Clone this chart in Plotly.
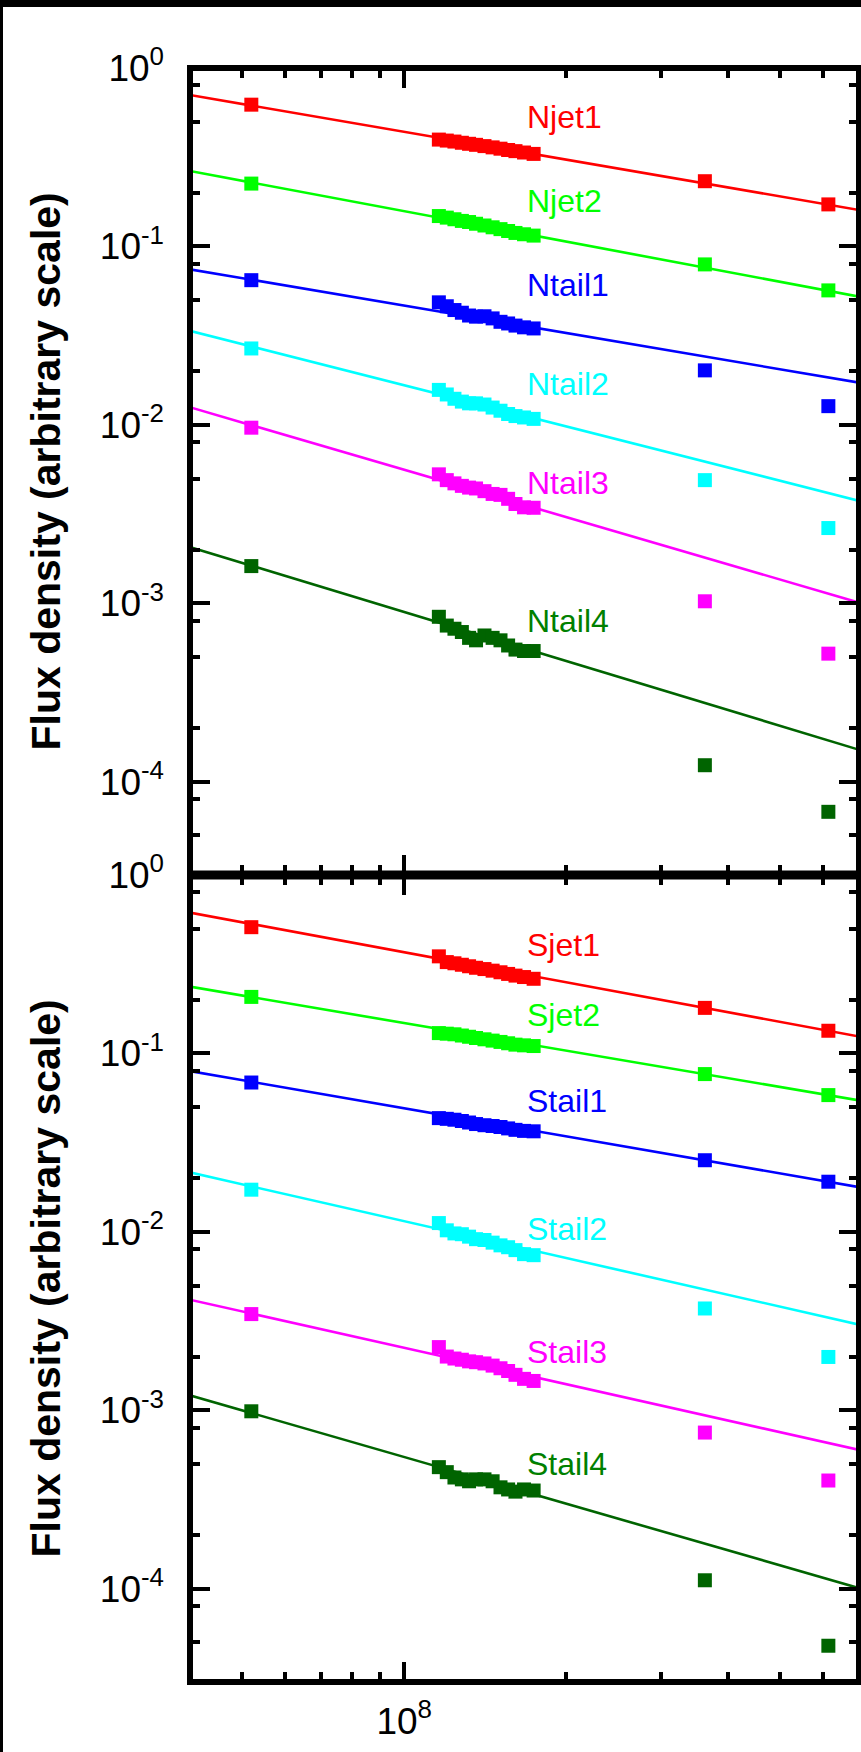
import math
import plotly.graph_objects as go
from plotly.subplots import make_subplots

# ---------------- data ----------------
# observing frequencies (Hz)
freq_low = [5.2e7]
freq_cluster_mhz = [116, 120, 124, 128, 132, 136, 141, 146, 151, 156, 161, 167, 174]
freq_high = [3.62e8, 6.14e8]

north_names = ["Njet1", "Njet2", "Ntail1", "Ntail2", "Ntail3", "Ntail4"]
south_names = ["Sjet1", "Sjet2", "Stail1", "Stail2", "Stail3", "Stail4"]
colors = ["#ff0000", "#00ff00", "#0000ff", "#00ffff", "#ff00ff", "#006400"]
label_colors = ["#ff0000", "#00ff00", "#0000ff", "#00ffff", "#ff00ff", "#008000"]

# flux densities (arbitrary scale): [low] + cluster + [high]
njet1 = [0.623] + [0.397, 0.392, 0.387, 0.381, 0.376, 0.371, 0.365, 0.359, 0.353, 0.347, 0.342, 0.336, 0.330] + [0.232, 0.172]
njet2 = [0.225] + [0.148, 0.145, 0.142, 0.139, 0.137, 0.134, 0.131, 0.128, 0.125, 0.122, 0.119, 0.117, 0.115] + [0.0793, 0.0567]
ntail1 = [0.0647] + [0.0486, 0.0462, 0.0440, 0.0425, 0.0410, 0.0404, 0.0406, 0.0395, 0.0378, 0.0370, 0.0360, 0.0352, 0.0347] + [0.0202, 0.01273]
ntail2 = [0.0268] + [0.0157, 0.0148, 0.0140, 0.0135, 0.0132, 0.0132, 0.0130, 0.0125, 0.0120, 0.0115, 0.0112, 0.0110, 0.0108] + [0.0049, 0.00264]
ntail3 = [0.00964] + [0.00528, 0.00490, 0.00470, 0.00455, 0.00445, 0.00440, 0.00425, 0.00410, 0.00405, 0.00385, 0.00360, 0.00345, 0.00343] + [0.001026, 0.000522]
ntail4 = [0.001616] + [0.00084, 0.00075, 0.00072, 0.00069, 0.00064, 0.00062, 0.00066, 0.00064, 0.00062, 0.00058, 0.00055, 0.00054, 0.00054] + [0.0001237, 0.0000678]

sjet1 = [0.510] + [0.350, 0.325, 0.320, 0.314, 0.308, 0.302, 0.297, 0.291, 0.285, 0.279, 0.273, 0.268, 0.262] + [0.180, 0.134]
sjet2 = [0.2074] + [0.130, 0.129, 0.128, 0.126, 0.124, 0.122, 0.120, 0.118, 0.116, 0.114, 0.112, 0.111, 0.110] + [0.0766, 0.0584]
stail1 = [0.0687] + [0.0434, 0.0430, 0.0425, 0.0418, 0.0410, 0.0402, 0.0396, 0.0392, 0.0387, 0.0380, 0.0373, 0.0368, 0.0366] + [0.0252, 0.0191]
stail2 = [0.01723] + [0.0112, 0.0102, 0.0098, 0.0097, 0.0094, 0.0091, 0.0090, 0.0087, 0.0084, 0.0082, 0.0079, 0.0075, 0.0074] + [0.00372, 0.00199]
stail3 = [0.00346] + [0.00226, 0.00200, 0.00195, 0.00192, 0.00188, 0.00186, 0.00183, 0.00178, 0.00172, 0.00166, 0.00158, 0.00150, 0.00146] + [0.00075, 0.000404]
stail4 = [0.000987] + [0.00048, 0.00045, 0.00042, 0.00041, 0.00040, 0.00041, 0.00041, 0.00040, 0.00037, 0.00036, 0.00035, 0.00036, 0.000355] + [0.0001115, 0.0000479]

# power-law fits: S = amp * (nu / 100 MHz)^alpha
north_amp = [0.439, 0.1576, 0.0466, 0.01667, 0.0056, 0.000894]
north_alpha = [-0.5185, -0.5664, -0.511, -0.7667, -0.8805, -0.9137]
south_amp = [0.369, 0.148, 0.0493, 0.01148, 0.00224, 0.000547]
south_alpha = [-0.5587, -0.5127, -0.523, -0.686, -0.677, -0.869]

# label anchor values (flux) for the component names
north_label_y = [0.531, 0.1797, 0.0608, 0.01693, 0.00475, 0.000794]
south_label_y = [0.405, 0.164, 0.0542, 0.0104, 0.00213, 0.000501]
label_x = 1.68e8

# axes
x_range = [4e7, 7e8]
y_range = [3e-5, 1.0]
x_major = [1e8]
x_major_text = ["10<sup>8</sup>"]
x_minor = [5e7, 6e7, 7e7, 8e7, 9e7, 2e8, 3e8, 4e8, 5e8, 6e8]
y_major = [1, 1e-1, 1e-2, 1e-3, 1e-4]
y_major_text = ["10<sup>0</sup>", "10<sup>-1</sup>", "10<sup>-2</sup>", "10<sup>-3</sup>", "10<sup>-4</sup>"]
y_minor = [m * d for d in [1, 1e-1, 1e-2, 1e-3, 1e-4, 1e-5] for m in (0.8, 0.5, 0.2)]

# ---------------- figure ----------------
freqs = freq_low + [f * 1e6 for f in freq_cluster_mhz] + freq_high

north = [njet1, njet2, ntail1, ntail2, ntail3, ntail4]
south = [sjet1, sjet2, stail1, stail2, stail3, stail4]

fig = make_subplots(rows=2, cols=1, shared_xaxes=True, vertical_spacing=0)

line_x = [3e7, 1e9]
for row, (series, amps, alphas, names) in enumerate(
        [(north, north_amp, north_alpha, north_names),
         (south, south_amp, south_alpha, south_names)], start=1):
    for vals, amp, alpha, name, col in zip(series, amps, alphas, names, colors):
        fig.add_trace(go.Scatter(
            x=line_x, y=[amp * (v / 1e8) ** alpha for v in line_x],
            mode="lines", line=dict(color=col, width=2.6),
            showlegend=False, hoverinfo="skip"), row=row, col=1)
        fig.add_trace(go.Scatter(
            x=freqs, y=vals, mode="markers", name=name,
            marker=dict(symbol="square", size=14, color=col, line=dict(width=0)),
            showlegend=False), row=row, col=1)

FONT = "Liberation Sans, Arial, Helvetica, sans-serif"

W, H = 861, 1752
ml, mr, mt, mb = 190, 2, 68, 70
pw, ph = W - ml - mr, H - mt - mb


def px_to_paper_x(px):
    return (px - ml) / pw


def px_to_paper_y(py):
    return 1 - (py - mt) / ph


annotations = []
for names, ys, xr, yr in [(north_names, north_label_y, "x", "y"),
                          (south_names, south_label_y, "x2", "y2")]:
    for name, yv, lc in zip(names, ys, label_colors):
        annotations.append(dict(
            x=math.log10(label_x), y=math.log10(yv), xref=xr, yref=yr,
            text=name, showarrow=False, xanchor="left", yanchor="middle",
            font=dict(family=FONT, size=32, color=lc)))

# y axis titles (one per panel)
for yc in [0.75, 0.25]:
    annotations.append(dict(
        x=px_to_paper_x(45), y=yc, xref="paper", yref="paper", textangle=-90,
        text="<b>Flux density (arbitrary scale)</b>", showarrow=False,
        xanchor="center", yanchor="middle",
        font=dict(family=FONT, size=41, color="black")))

shapes = [
    # outer picture frame (black band on top, thin line on the left)
    dict(type="rect", xref="paper", yref="paper",
         x0=px_to_paper_x(0), x1=px_to_paper_x(W), y0=px_to_paper_y(0), y1=px_to_paper_y(7),
         fillcolor="black", line=dict(width=0), layer="above"),
    dict(type="rect", xref="paper", yref="paper",
         x0=px_to_paper_x(0), x1=px_to_paper_x(3), y0=px_to_paper_y(0), y1=px_to_paper_y(H),
         fillcolor="black", line=dict(width=0), layer="above"),
    # panel frames, centred on the plot-area edges
    dict(type="rect", xref="paper", yref="paper", x0=0, x1=1, y0=0.5, y1=1,
         line=dict(color="black", width=6), fillcolor="rgba(0,0,0,0)", layer="above"),
    dict(type="rect", xref="paper", yref="paper", x0=0, x1=1, y0=0, y1=0.5,
         line=dict(color="black", width=6), fillcolor="rgba(0,0,0,0)", layer="above"),
    dict(type="line", xref="paper", yref="paper", x0=0, x1=1, y0=0.5, y1=0.5,
         line=dict(color="black", width=9), layer="above"),
]

axis_common = dict(
    showline=False, mirror="allticks",
    ticks="inside", ticklen=20, tickwidth=4, tickcolor="black",
    showgrid=False, zeroline=False,
    tickfont=dict(family=FONT, size=37, color="black"),
)

for i, showlab in [(1, False), (2, True)]:
    fig.update_xaxes(
        type="log", range=[math.log10(x_range[0]), math.log10(x_range[1])],
        tickmode="array", tickvals=x_major, ticktext=x_major_text,
        showticklabels=showlab, ticklabelstandoff=14,
        minor=dict(tickmode="array", tickvals=x_minor, ticks="inside",
                   ticklen=10, tickwidth=4, tickcolor="black", showgrid=False),
        row=i, col=1, **axis_common)
    fig.update_yaxes(
        type="log", range=[math.log10(y_range[0]), math.log10(y_range[1])],
        tickmode="array", tickvals=y_major, ticktext=y_major_text,
        ticklabelstandoff=25,
        minor=dict(tickmode="array", tickvals=y_minor, ticks="inside",
                   ticklen=10, tickwidth=4, tickcolor="black", showgrid=False),
        row=i, col=1, **axis_common)

fig.update_layout(
    width=W, height=H,
    margin=dict(l=ml, r=mr, t=mt, b=mb, pad=0),
    paper_bgcolor="white", plot_bgcolor="white",
    annotations=annotations, shapes=shapes,
    showlegend=False,
)

# remove the browser's default page margin so the figure sits at (0, 0)
fig.write_html(
    "out.html",
    config={"displayModeBar": False},
    post_script="document.body.style.margin='0';document.body.style.overflow='hidden';",
)
